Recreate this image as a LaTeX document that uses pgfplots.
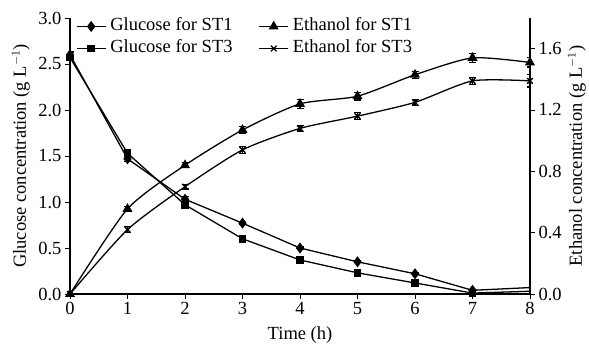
\documentclass[border=0pt]{standalone}
\usepackage{pgfplots}
\pgfplotsset{compat=1.18}
\usepackage{pgfplotstable}
\usepackage{fontspec}
\setmainfont{Liberation Serif}

\pgfplotstableread{
x y e
0 2.60 0.03
1 1.47 0.03
2 1.03 0.03
3 0.77 0.01
4 0.50 0.01
5 0.35 0.01
6 0.22 0.01
7 0.04 0.01
8 0.07 0.00
}\gluA
\pgfplotstableread{
x y e
0 2.57 0.03
1 1.53 0.03
2 0.97 0.04
3 0.60 0.01
4 0.37 0.01
5 0.23 0.01
6 0.12 0.01
7 0.01 0.01
8 0.03 0.00
}\gluB
\pgfplotstableread{
x y e
0 0.00 0.00
1 0.555 0.018
2 0.84 0.015
3 1.07 0.022
4 1.24 0.028
5 1.29 0.025
6 1.43 0.022
7 1.54 0.028
8 1.51 0.030
}\ethA
\pgfplotstableread{
x y e
0 0.00 0.00
1 0.42 0.018
2 0.70 0.015
3 0.94 0.022
4 1.08 0.018
5 1.16 0.022
6 1.25 0.020
7 1.39 0.022
8 1.39 0.040
}\ethB

\begin{document}
\begin{tikzpicture}[font=\fontsize{18.5bp}{22bp}\selectfont]
\pgfplotsset{
  every axis/.style={
    scale only axis, width=460bp, height=276bp,
    xmin=0, xmax=8, xtick={0,...,8},
    /pgf/number format/assume math mode=true,
    tick align=outside, tick style={black, line width=0.9pt},
    major tick length=5bp,
    axis line style={line width=1.3pt},
    every axis plot/.append style={line width=1.3pt, black},
  },
  errb/.style={error bars/.cd, y dir=both, y explicit, error mark options={rotate=90, mark size=3.5bp, line width=1.2pt}, error bar style={line width=1.2pt}},
}
\begin{axis}[name=ax,
  axis x line*=bottom, axis y line*=left,
  ymin=0, ymax=3,
  ytick={0,0.5,...,3.0},
  yticklabel style={/pgf/number format/.cd, fixed, fixed zerofill, precision=1},
  xlabel={Time (h)},
  ylabel={Glucose concentration (g L$^{-1}$)},
  ylabel style={at={(axis description cs:-0.1065,0.5)}, anchor=center},
  xlabel style={at={(axis description cs:0.5,-0.149)}, anchor=center},
  legend columns=2, transpose legend,
  legend style={draw=none, fill=none, inner sep=0pt, outer sep=0pt,
    at={(axis description cs:0.013,1.0)}, anchor=north west,
    column sep=0pt,
    /tikz/every odd column/.style={column sep=4bp},
    /tikz/every even column/.style={column sep=26bp},
    row sep=5bp,
    nodes={inner sep=0pt, text height=13bp, text depth=4bp},
    font=\fontsize{18.5bp}{22bp}\selectfont},
  legend image code/.code={\draw[mark repeat=2, mark phase=2, #1, line width=1.3pt] plot coordinates {(0bp,0bp) (14.5bp,0bp) (29bp,0bp)};},
]
\addplot[forget plot, mark=diamond*, mark size=4.5bp, mark indices={1,...,8}, errb] table[x=x, y=y, y error=e] {\gluA};
\addplot[forget plot, mark=square*, mark size=3.2bp, mark indices={1,...,8}, errb] table[x=x, y=y, y error=e] {\gluB};
\addlegendimage{black, mark=diamond*, mark size=4.5bp}
\addlegendentry{Glucose for ST1}
\addlegendimage{black, mark=square*, mark size=3.2bp}
\addlegendentry{Glucose for ST3}
\addlegendimage{black, mark=triangle*, mark size=4.5bp}
\addlegendentry{Ethanol for ST1}
\addlegendimage{black, mark=x, mark size=4bp}
\addlegendentry{Ethanol for ST3}
\end{axis}
\begin{axis}[
  axis x line=none, axis y line*=right,
  ymin=0, ymax=1.8,
  ytick={0,0.4,...,1.6},
  yticklabel style={/pgf/number format/.cd, fixed, fixed zerofill, precision=1},
  ylabel={Ethanol concentration (g L$^{-1}$)},
  ylabel style={at={(axis description cs:1.102,0.5)}, anchor=center},
]
\addplot[mark=triangle*, mark size=4.5bp, smooth, tension=0.4, errb] table[x=x, y=y, y error=e] {\ethA};
\addplot[mark=x, mark size=4bp, smooth, tension=0.4, errb] table[x=x, y=y, y error=e] {\ethB};
\end{axis}
\pgfresetboundingbox
\path[use as bounding box] ([xshift=-70bp,yshift=-49bp]ax.south west) rectangle ([xshift=59bp,yshift=18bp]ax.north east);
\end{tikzpicture}
\end{document}
